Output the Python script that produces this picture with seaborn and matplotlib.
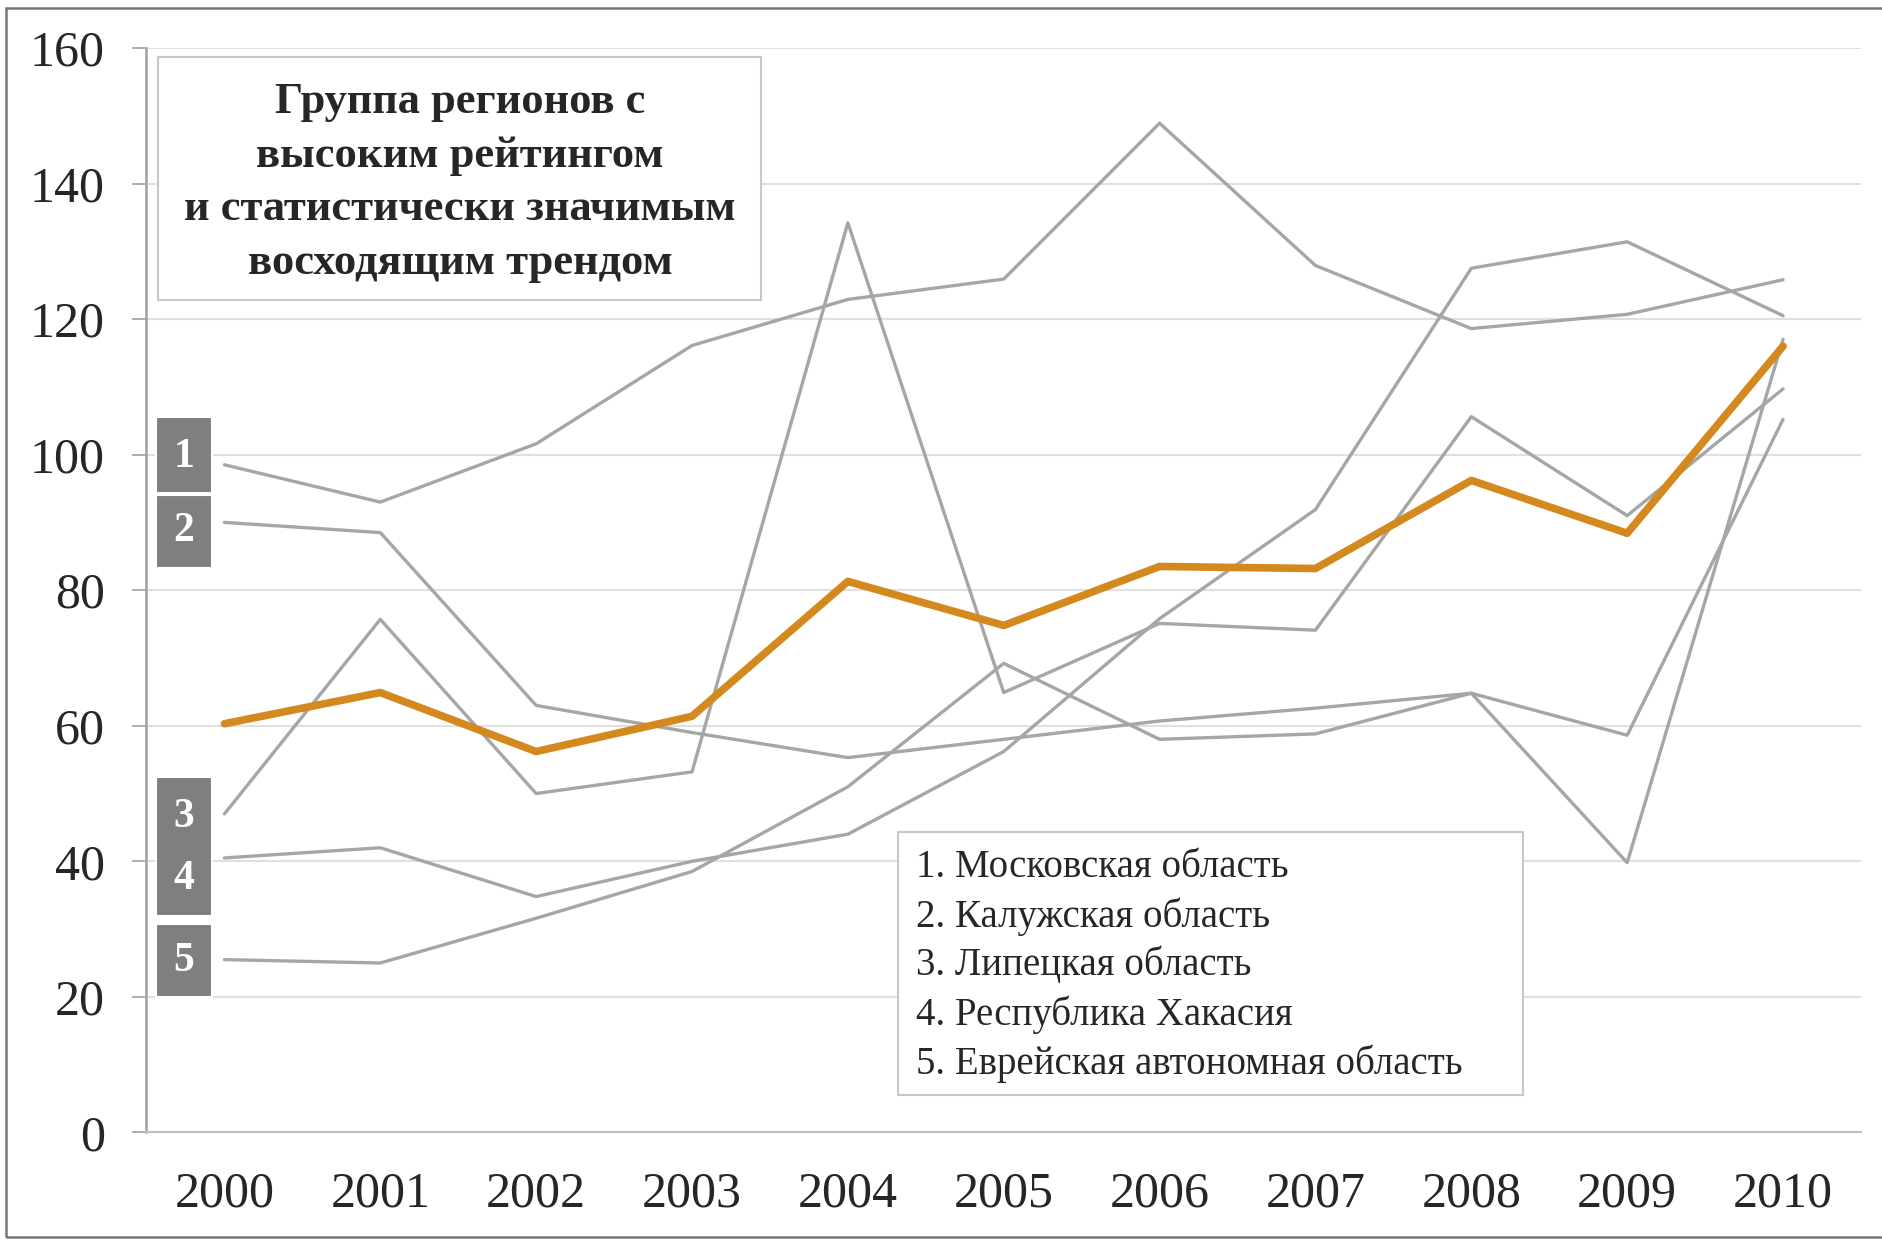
import numpy as np
import pandas as pd
import matplotlib.pyplot as plt
from matplotlib.patches import Rectangle
import seaborn as sns

# values
years = [2000, 2001, 2002, 2003, 2004, 2005, 2006, 2007, 2008, 2009, 2010]
regions = ["1. Московская область", "2. Калужская область", "3. Липецкая область",
           "4. Республика Хакасия", "5. Еврейская автономная область"]
moscow = [98.5, 93.0, 101.6, 116.1, 122.9, 125.9, 148.9, 127.9, 118.6, 120.7, 125.8]
kaluga = [90.0, 88.5, 63.0, 59.0, 55.3, 58.0, 60.7, 62.6, 64.8, 58.6, 105.2]
lipetsk = [47.0, 75.7, 50.0, 53.2, 134.2, 64.9, 75.1, 74.1, 105.6, 91.0, 109.7]
khakassia = [40.5, 42.0, 34.8, 40.0, 44.0, 56.2, 75.8, 91.9, 127.5, 131.4, 120.5]
eao = [25.5, 25.0, 31.6, 38.5, 51.0, 69.2, 58.0, 58.8, 64.8, 39.8, 117.0]
group_avg = [60.3, 64.9, 56.2, 61.4, 81.3, 74.8, 83.5, 83.2, 96.2, 88.4, 116.0]

title = "Группа регионов с\nвысоким рейтингом\nи статистически значимым\nвосходящим трендом"

# numbered markers on the left: label, text y, box bottom, box top
marker_nums = ["1", "2", "3", "4", "5"]
marker_text_y = [99.7, 88.8, 46.6, 37.4, 25.3]
marker_boxes = [(94.4, 105.6), (83.3, 94.1), (31.9, 52.4), (20.0, 30.8)]

df = pd.DataFrame({
    "year": years * 5,
    "value": moscow + kaluga + lipetsk + khakassia + eao,
    "region": [r for r in regions for _ in years],
})

sns.set_style("white")
plt.rcParams["font.family"] = ["Liberation Serif", "DejaVu Serif"]

fig, ax = plt.subplots(figsize=(18.83, 12.39), dpi=100)
fig.subplots_adjust(left=0.0778, right=0.9883, top=0.9613, bottom=0.086)

sns.lineplot(data=df, x="year", y="value", units="region", estimator=None,
             color="#a6a6a6", lw=2.4, ax=ax, legend=False)
sns.lineplot(x=years, y=group_avg, color="#d4891f", lw=5.5, ax=ax)

ax.set_xlim(1999.5, 2010.5)
ax.set_ylim(0, 160)
ax.set_yticks(range(0, 161, 20))
ax.set_xticks(years)
ax.set_xticks(np.arange(1999.5, 2011, 1), minor=True)
ax.set_xlabel("")
ax.set_ylabel("")
ax.tick_params(axis="x", which="major", length=0, pad=28, labelsize=36)
ax.tick_params(axis="x", which="minor", length=12, width=1.2, color="#a0a0a0")
ax.tick_params(axis="y", left=True, length=10, width=1.2, color="#a0a0a0", pad=20, labelsize=36)
ax.yaxis.grid(True, color="#e0e0e0", lw=1.5)
ax.set_axisbelow(True)

for s in ["top", "right"]:
    ax.spines[s].set_visible(False)
ax.spines["left"].set_color("#a0a0a0")
ax.spines["left"].set_linewidth(1.8)
ax.spines["bottom"].set_color("#c0c0c0")
ax.spines["bottom"].set_linewidth(1.5)

# title box
ax.add_patch(Rectangle((0.007, 0.7676), 0.3514, 0.2236, transform=ax.transAxes,
                       facecolor="white", edgecolor="#c8c8c8", lw=1.5, zorder=5))
ax.text(0.1829, 0.8760, title, transform=ax.transAxes, ha="center", va="center",
        fontsize=32, fontweight="bold", linespacing=1.44, zorder=6)

# region list box
ax.add_patch(Rectangle((0.4383, 0.0346), 0.3646, 0.2425, transform=ax.transAxes,
                       facecolor="white", edgecolor="#c8c8c8", lw=1.5, zorder=5))
for i, name in enumerate(regions):
    ax.text(0.4488, 0.2440 - i * 0.0451, name, transform=ax.transAxes,
            ha="left", va="center", fontsize=28, zorder=6)

# numbered markers
for y0, y1 in marker_boxes:
    ax.add_patch(Rectangle((1999.56, y0), 0.36, y1 - y0, facecolor="#7f7f7f",
                           edgecolor="white", lw=1.5, zorder=5))
for num, y in zip(marker_nums, marker_text_y):
    ax.text(1999.74, y, num, ha="center", va="center", color="white",
            fontsize=30, fontweight="bold", zorder=6)

# outer frame (open on the right, as in the source image)
fig.patches.append(Rectangle((0.0032, 0.0016), 1.0, 0.9919, transform=fig.transFigure,
                             fill=False, edgecolor="#777777", lw=1.8))

fig.savefig("out.png", dpi=100)
